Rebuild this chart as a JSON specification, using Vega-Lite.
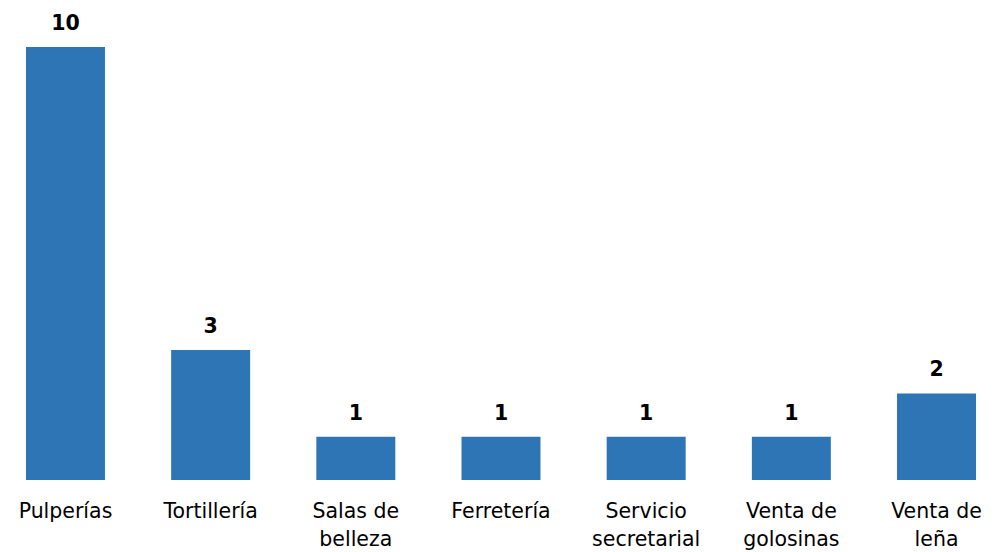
{
  "$schema": "https://vega.github.io/schema/vega-lite/v6.json",
  "autosize": {"type": "none"},
  "padding": {"left": 0, "top": 47, "right": 2, "bottom": 72},
  "width": 1002,
  "height": 433,
  "background": "white",
  "config": {"view": {"stroke": null}, "font": "DejaVu Sans"},
  "data": {"values": [
    {"cat": "Pulperías", "n": 10},
    {"cat": "Tortillería", "n": 3},
    {"cat": "Salas de belleza", "n": 1},
    {"cat": "Ferretería", "n": 1},
    {"cat": "Servicio secretarial", "n": 1},
    {"cat": "Venta de golosinas", "n": 1},
    {"cat": "Venta de leña", "n": 2}
  ]},
  "encoding": {
    "x": {"field": "cat", "type": "nominal", "sort": null,
      "scale": {"paddingInner": 0.456, "paddingOuter": 0.179},
      "axis": {"title": null, "domain": false, "ticks": false, "labelAngle": 0,
        "labelFont": "DejaVu Sans", "labelFontSize": 20.5, "labelColor": "#000000",
        "labelPadding": 21, "labelLineHeight": 28, "labelLimit": 200,
        "labelExpr": "datum.value == 'Salas de belleza' ? ['Salas de','belleza'] : datum.value == 'Servicio secretarial' ? ['Servicio','secretarial'] : datum.value == 'Venta de golosinas' ? ['Venta de','golosinas'] : datum.value == 'Venta de leña' ? ['Venta de','leña'] : datum.value"}},
    "y": {"field": "n", "type": "quantitative", "scale": {"domain": [0, 10], "nice": false}, "axis": null}
  },
  "layer": [
    {"mark": {"type": "bar", "color": "#2E75B6"}},
    {"mark": {"type": "text", "baseline": "bottom", "dy": -13, "font": "DejaVu Sans", "fontSize": 20.5, "fontWeight": "bold", "color": "#000000"},
     "encoding": {"text": {"field": "n", "type": "quantitative"}}}
  ]
}
